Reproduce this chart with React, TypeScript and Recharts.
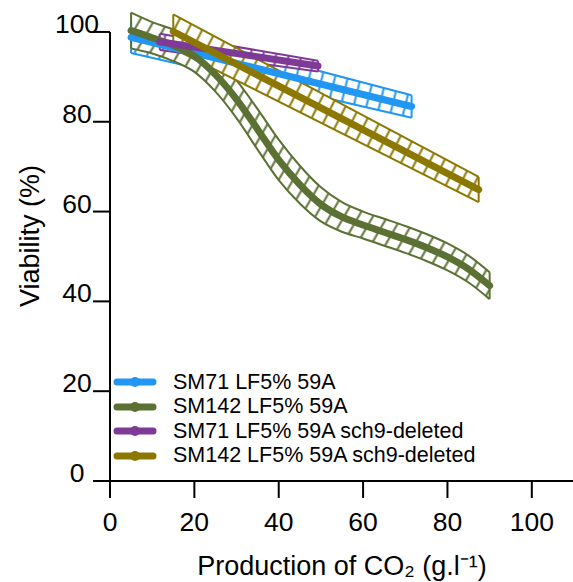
import React from 'react';
import { ComposedChart, Area, Line, XAxis, YAxis, ReferenceLine } from 'recharts';

const FONT = '"Liberation Sans", Arial, Helvetica, sans-serif';

const seriesNames = [
  'SM71 LF5% 59A',
  'SM142 LF5% 59A',
  'SM71 LF5% 59A sch9-deleted',
  'SM142 LF5% 59A sch9-deleted',
];
const seriesColors = ['#2196F3', '#5B7133', '#7E3A96', '#8C7800'];
const seriesCurve: ('linear' | 'monotone')[] = ['linear', 'monotone', 'linear', 'linear'];
// rib tilt of the hatch pattern (degrees), styling only
const hatchTilt = [14, 30, 9, 27];

// SM71 LF5% 59A
const sm71X = [5, 71.5];
const sm71Y = [98.8, 83.4];
const sm71Half = [3.5, 2.5];

// SM142 LF5% 59A
const sm142X = [5, 10, 15, 20, 25, 30, 35, 40, 45, 50, 55, 60, 65, 70, 75, 80, 85, 90];
const sm142Y = [100.3, 98.7, 97, 94.6, 90.5, 85, 78.3, 71.5, 66, 61.6, 58.8, 57, 55.4, 53.8, 52, 49.9, 47.2, 43.5];
const sm142Half = [4, 3.5, 3.5, 3.5, 3.8, 4.2, 4.5, 4.5, 4.2, 3.8, 3.3, 3, 3, 3, 3, 3, 3, 3];

// SM71 LF5% 59A sch9-deleted
const sm71dX = [11.8, 49.3];
const sm71dY = [97.8, 92.4];
const sm71dHalf = [1.8, 1.2];

// SM142 LF5% 59A sch9-deleted
const sm142dX = [15, 87.4];
const sm142dY = [100.1, 64.9];
const sm142dHalf = [3.8, 2.8];

const xTicks = [0, 20, 40, 60, 80, 100];
const yTicks = [0, 20, 40, 60, 80, 100];

const build = (xs: number[], ys: number[], hs: number[]) =>
  xs.map((x, i) => ({ x, y: ys[i], band: [ys[i] - hs[i], ys[i] + hs[i]] }));

const seriesData = [
  build(sm71X, sm71Y, sm71Half),
  build(sm142X, sm142Y, sm142Half),
  build(sm71dX, sm71dY, sm71dHalf),
  build(sm142dX, sm142dY, sm142dHalf),
];

const YTick = (props: any) => {
  const { y, payload } = props;
  return (
    <text x={77} y={y + 1} textAnchor="middle" fontSize={26.5} fontFamily={FONT} fill="#000">
      {payload.value}
    </text>
  );
};

const XTick = (props: any) => {
  const { x, payload } = props;
  return (
    <text x={x} y={531} textAnchor="middle" fontSize={26.5} fontFamily={FONT} fill="#000">
      {payload.value}
    </text>
  );
};

const XTitle = () => (
  <text x={342} y={575} textAnchor="middle" fontSize={27} fontFamily={FONT} fill="#000">
    Production of CO₂ (g.l⁻¹)
  </text>
);

const YTitle = () => (
  <text
    x={30}
    y={236}
    transform="rotate(-90, 30, 236)"
    textAnchor="middle"
    dominantBaseline="central"
    fontSize={27}
    fontFamily={FONT}
    fill="#000"
  >
    Viability (%)
  </text>
);

const LegendBox = () => (
  <div style={{ position: 'absolute', left: 113, top: 370, fontFamily: FONT, fontSize: 21.5, color: '#000' }}>
    {seriesNames.map((name, i) => (
      <div key={name} style={{ display: 'flex', alignItems: 'center', height: 24.5, whiteSpace: 'nowrap' }}>
        <svg width={44} height={14} style={{ marginRight: 16, flex: 'none' }}>
          <line x1={4} y1={7} x2={40} y2={7} stroke={seriesColors[i]} strokeWidth={7} strokeLinecap="round" />
          <circle cx={22} cy={7} r={5} fill={seriesColors[i]} />
        </svg>
        <span>{name}</span>
      </div>
    ))}
  </div>
);

export default function App() {
  return (
    <div style={{ position: 'absolute', left: 0, top: 0, width: 573, height: 582, background: '#fff' }}>
      <ComposedChart width={573} height={582} margin={{ top: 5, right: -1, bottom: 0, left: 0 }}>
        <defs>
          {seriesColors.map((c, i) => (
            <pattern
              key={i}
              id={`hatch-${i}`}
              width={12.5}
              height={12.5}
              patternUnits="userSpaceOnUse"
              patternTransform={`rotate(${hatchTilt[i]})`}
            >
              <rect width={12.5} height={12.5} fill="#fff" />
              <line x1={6.25} y1={0} x2={6.25} y2={12.5} stroke={c} strokeWidth={2} />
            </pattern>
          ))}
        </defs>
        <XAxis
          type="number"
          dataKey="x"
          domain={[0, 110]}
          ticks={xTicks}
          allowDataOverflow
          height={101}
          tickSize={17}
          axisLine={{ stroke: '#000', strokeWidth: 2 }}
          tickLine={{ stroke: '#000', strokeWidth: 2 }}
          tick={<XTick />}
          label={<XTitle />}
        />
        <YAxis
          type="number"
          domain={[0, 106]}
          ticks={yTicks}
          width={110}
          tickSize={17}
          axisLine={false}
          tickLine={{ stroke: '#000', strokeWidth: 2 }}
          tick={<YTick />}
          label={<YTitle />}
        />
        <ReferenceLine
          segment={[{ x: 0, y: 0 }, { x: 0, y: 100 }]}
          stroke="#000"
          strokeWidth={2}
          ifOverflow="visible"
        />
        {seriesData.map((d, i) => (
          <Area
            key={`a${i}`}
            data={d}
            dataKey="band"
            type={seriesCurve[i]}
            fill={`url(#hatch-${i})`}
            fillOpacity={1}
            stroke={seriesColors[i]}
            strokeWidth={2}
            isAnimationActive={false}
            legendType="none"
            activeDot={false}
          />
        ))}
        {seriesData.map((d, i) => (
          <ReferenceLine
            key={`s${i}`}
            segment={[{ x: d[0].x, y: d[0].band[0] }, { x: d[0].x, y: d[0].band[1] }]}
            stroke={seriesColors[i]}
            strokeWidth={2}
            ifOverflow="visible"
          />
        ))}
        {seriesData.map((d, i) => (
          <ReferenceLine
            key={`e${i}`}
            segment={[
              { x: d[d.length - 1].x, y: d[d.length - 1].band[0] },
              { x: d[d.length - 1].x, y: d[d.length - 1].band[1] },
            ]}
            stroke={seriesColors[i]}
            strokeWidth={2}
            ifOverflow="visible"
          />
        ))}
        {seriesData.map((d, i) => (
          <Line
            key={`l${i}`}
            data={d}
            dataKey="y"
            name={seriesNames[i]}
            type={seriesCurve[i]}
            stroke={seriesColors[i]}
            strokeWidth={7}
            strokeLinecap="round"
            dot={false}
            activeDot={false}
            isAnimationActive={false}
          />
        ))}
      </ComposedChart>
      <LegendBox />
    </div>
  );
}
